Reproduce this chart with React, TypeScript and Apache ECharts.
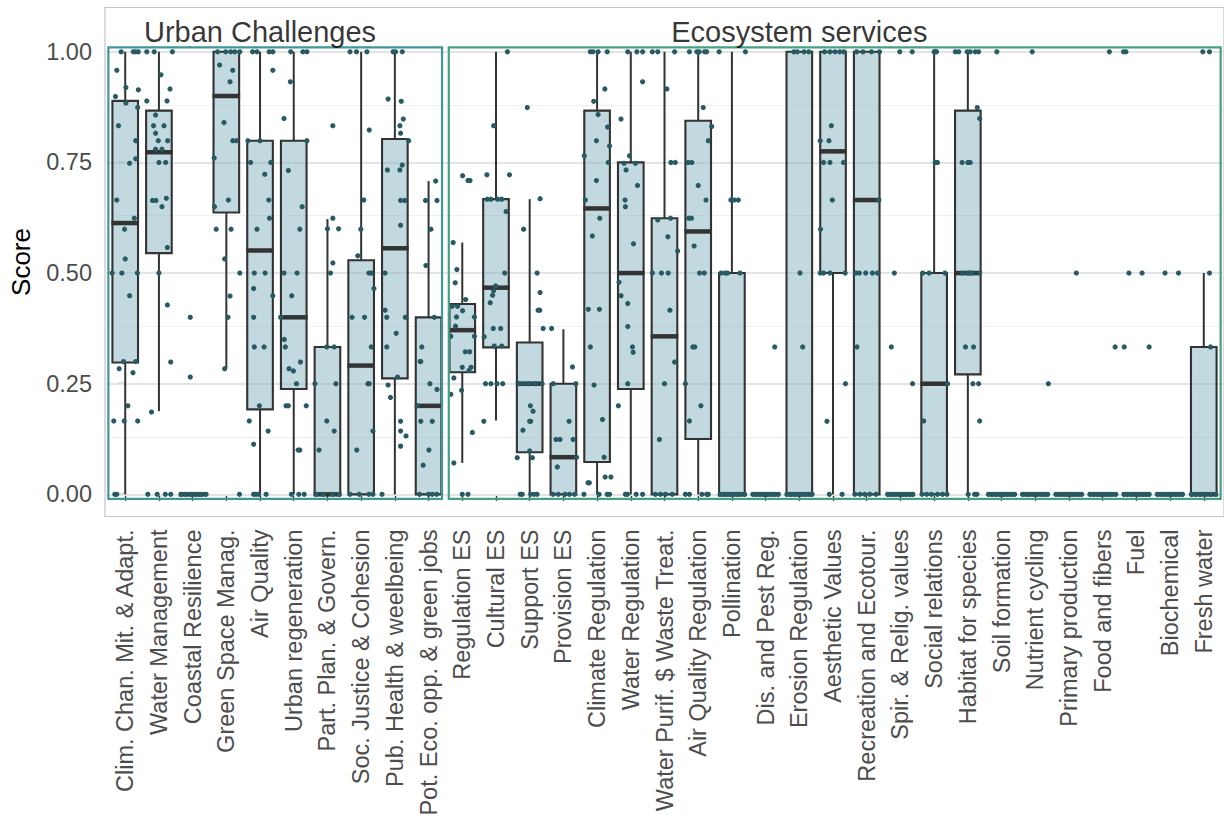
import React, { useEffect, useRef } from "react";
import * as echarts from "echarts";

const categories = [
  "Clim. Chan. Mit. & Adapt.", "Water Management", "Coastal Resilience", "Green Space Manag.",
  "Air Quality", "Urban regeneration", "Part. Plan. & Govern.", "Soc. Justice & Cohesion",
  "Pub. Health & weelbeing", "Pot. Eco. opp. & green jobs", "Regulation ES", "Cultural ES",
  "Support ES", "Provision ES", "Climate Regulation", "Water Regulation",
  "Water Purif. $ Waste Treat.", "Air Quality Regulation", "Pollination", "Dis. and Pest Reg.",
  "Erosion Regulation", "Aesthetic Values", "Recreation and Ecotour.", "Spir. & Relig. values",
  "Social relations", "Habitat for species", "Soil formation", "Nutrient cycling",
  "Primary production", "Food and fibers", "Fuel", "Biochemical", "Fresh water",
];

const whiskerLow = [0, 0.188, 0, 0.284, 0, 0, 0, 0, 0, 0, 0.071, 0.167, 0, 0, 0, 0, 0, 0, 0, 0, 0, 0, 0, 0, 0, 0, 0, 0, 0, 0, 0, 0, 0];
const quartile1 = [0.298, 0.545, 0, 0.637, 0.192, 0.238, 0, 0, 0.262, 0, 0.276, 0.332, 0.095, 0, 0.073, 0.238, 0, 0.125, 0, 0, 0, 0.5, 0, 0, 0, 0.271, 0, 0, 0, 0, 0, 0, 0];
const medians = [0.613, 0.773, 0, 0.9, 0.551, 0.4, 0, 0.291, 0.556, 0.2, 0.371, 0.467, 0.25, 0.084, 0.646, 0.5, 0.357, 0.594, 0, 0, 0, 0.775, 0.665, 0, 0.25, 0.5, 0, 0, 0, 0, 0, 0, 0];
const quartile3 = [0.889, 0.867, 0, 1, 0.799, 0.799, 0.333, 0.529, 0.803, 0.4, 0.43, 0.667, 0.343, 0.25, 0.867, 0.75, 0.624, 0.844, 0.5, 0, 1, 1, 1, 0, 0.5, 0.867, 0, 0, 0, 0, 0, 0, 0.333];
const whiskerHigh = [1, 1, 0, 1, 1, 1, 0.622, 1, 1, 0.708, 0.569, 1, 0.667, 0.373, 1, 1, 1, 1, 1, 0, 1, 1, 1, 0, 1, 1, 0, 0, 0, 0, 0, 0, 0.5];

// jittered observations per category: [horizontal jitter (category units), score]
const jitteredScores: number[][][] = [
  [[-0.12,1],[0.24,1],[0.31,1],[0.39,1],[-0.25,0.958],[0.02,0.919],[0.39,0.914],[-0.29,0.899],[0.02,0.884],[0.37,0.874],[-0.2,0.833],[0.31,0.799],[0.31,0.758],[0.13,0.748],[-0.25,0.665],[0.27,0.624],[-0.02,0.599],[0,0.532],[-0.39,0.5],[-0.1,0.5],[0.36,0.5],[0.13,0.449],[-0.05,0.3],[0.31,0.3],[-0.18,0.284],[0.23,0.275],[0.08,0.2],[-0.34,0.166],[-0.03,0.166],[0.37,0.166],[-0.31,0],[-0.25,0]],
  [[-0.36,1],[-0.14,1],[0.4,1],[0.06,0.948],[0.33,0.916],[-0.36,0.889],[0.24,0.889],[-0.1,0.857],[-0.16,0.833],[0.15,0.833],[-0.1,0.816],[-0.02,0.799],[0.26,0.799],[-0.1,0.78],[0.09,0.78],[0,0.75],[0.2,0.75],[0.22,0.669],[-0.19,0.664],[-0.09,0.664],[0.09,0.65],[0.25,0.558],[0,0.5],[0.25,0.428],[0.35,0.299],[-0.22,0.186],[-0.33,0],[-0.05,0],[0.19,0],[0.35,0]],
  [[-0.07,0.4],[-0.07,0.265],[-0.34,0],[-0.2,0],[-0.05,0],[0.08,0],[0.18,0],[0.25,0],[0.4,0]],
  [[-0.26,1],[-0.02,1],[0.13,1],[0.25,1],[0.4,1],[-0.2,0.97],[0.19,0.958],[0.11,0.932],[-0.07,0.84],[0.19,0.799],[0.3,0.799],[-0.36,0.76],[0.06,0.665],[-0.35,0.65],[-0.3,0.599],[0.14,0.599],[-0.05,0.532],[0.4,0.5],[0.11,0.448],[0.05,0.4],[-0.05,0.284],[0.39,0]],
  [[-0.22,1],[-0.09,1],[0.27,1],[0.38,1],[0.38,0.958],[-0.36,0.799],[0,0.799],[-0.28,0.75],[0.32,0.75],[0.14,0.723],[0.26,0.665],[0.28,0.624],[-0.09,0.599],[-0.17,0.5],[0.15,0.5],[-0.19,0.465],[0.38,0.449],[-0.19,0.4],[-0.17,0.333],[0.12,0.333],[-0.02,0.2],[-0.32,0.166],[0.24,0.143],[-0.19,0.113],[-0.19,0],[-0.12,0],[-0.04,0],[0.18,0]],
  [[-0.09,1],[0.27,1],[0.39,1],[-0.1,0.932],[-0.29,0.849],[0.39,0.799],[-0.16,0.732],[0.25,0.65],[0.18,0.599],[-0.29,0.5],[0.1,0.5],[-0.06,0.449],[-0.39,0.4],[-0.28,0.35],[-0.25,0.333],[0.2,0.299],[-0.14,0.284],[-0.01,0.279],[0.08,0.25],[-0.23,0.2],[-0.16,0.2],[0.37,0.2],[0.13,0.1],[0.18,0.1],[-0.07,0],[0.15,0],[0.31,0]],
  [[0.16,0.833],[0.16,0.624],[0,0.6],[0.33,0.6],[0.16,0.523],[0.09,0.5],[-0.02,0.333],[0.2,0.333],[-0.37,0.25],[0.25,0.25],[-0.02,0.166],[0.2,0.143],[-0.25,0.1],[-0.33,0],[-0.13,0],[0.15,0],[0.35,0]],
  [[-0.33,1],[-0.14,1],[0.17,1],[0.24,0.823],[0.08,0.665],[-0.01,0.599],[-0.1,0.539],[0.23,0.5],[0.3,0.5],[0.38,0.465],[-0.27,0.4],[0.1,0.4],[0.3,0.333],[0.2,0.25],[0.24,0.25],[0.35,0.143],[-0.13,0.1],[-0.33,0],[-0.06,0],[0.23,0],[0.35,0]],
  [[-0.05,1],[0.02,1],[0.22,1],[-0.2,0.893],[0.19,0.888],[0.25,0.848],[0.15,0.833],[0.17,0.816],[0.41,0.799],[0.22,0.744],[-0.22,0.733],[0.15,0.733],[0.17,0.664],[0.29,0.664],[0.17,0.608],[-0.29,0.5],[-0.29,0.416],[-0.24,0.4],[0.31,0.4],[0.04,0.364],[-0.24,0.333],[0.08,0.265],[-0.2,0.247],[-0.13,0.219],[0.17,0.165],[0.17,0.143],[0.33,0.132],[0.17,0.109],[-0.38,0]],
  [[0.21,0.708],[-0.09,0.664],[0.25,0.664],[0.07,0.599],[-0.08,0.517],[0.17,0.4],[-0.2,0.333],[-0.25,0.3],[-0.23,0.3],[0.04,0.25],[0.25,0.237],[-0.33,0.2],[0.11,0.165],[-0.23,0.165],[0.01,0.1],[-0.16,0.066],[-0.27,0],[0,0],[0.11,0],[0.24,0]],
  [[0.01,0.72],[0.17,0.709],[0.23,0.709],[-0.27,0.569],[-0.16,0.508],[-0.21,0.478],[0.1,0.44],[-0.3,0.425],[-0.14,0.425],[0.01,0.415],[-0.17,0.401],[0.36,0.401],[-0.2,0.38],[-0.34,0.357],[0.36,0.357],[0.09,0.322],[0.22,0.322],[0,0.287],[0.26,0.287],[0.2,0.28],[-0.25,0.263],[-0.02,0.235],[-0.34,0.226],[0.3,0.14],[-0.25,0.071],[0,0],[0.17,0]],
  [[0.34,1],[-0.07,0.833],[-0.27,0.722],[0.4,0.722],[-0.26,0.667],[-0.15,0.667],[0.05,0.667],[0.17,0.667],[0.3,0.639],[0.26,0.5],[-0.01,0.471],[-0.07,0.46],[-0.1,0.45],[-0.17,0.433],[-0.08,0.375],[0.14,0.375],[-0.35,0.356],[-0.05,0.335],[0.17,0.335],[-0.31,0.25],[-0.15,0.25],[0.03,0.25],[0.2,0.25],[-0.36,0.165]],
  [[-0.07,0.874],[0.31,0.668],[-0.18,0.599],[0.22,0.5],[0.31,0.456],[0.25,0.416],[0.3,0.416],[0.4,0.375],[-0.31,0.25],[-0.15,0.25],[0,0.25],[0.18,0.25],[0.37,0.25],[0.02,0.2],[0.1,0.188],[0,0.165],[0.03,0.165],[-0.2,0.145],[0,0.098],[-0.37,0.083],[0.08,0.083],[-0.28,0],[-0.22,0],[0.03,0],[0.13,0],[0.22,0]],
  [[-0.35,0.375],[0.27,0.288],[-0.3,0.25],[0.37,0.25],[0.17,0.165],[-0.22,0.124],[-0.1,0.124],[0.29,0.124],[0.39,0.084],[-0.18,0.062],[-0.31,0],[-0.15,0],[0.05,0],[0.18,0],[0.34,0]],
  [[-0.2,1],[-0.12,1],[0.03,1],[0.3,1],[0.23,0.916],[-0.1,0.888],[0.03,0.858],[0.31,0.83],[-0.02,0.799],[0.37,0.787],[-0.38,0.765],[0.33,0.75],[-0.02,0.709],[-0.35,0.665],[0.08,0.624],[-0.14,0.584],[-0.26,0.418],[0.07,0.418],[-0.2,0.333],[-0.09,0.247],[0.16,0.169],[0.21,0.084],[0.24,0.039],[0.41,0.039],[-0.27,0.026],[-0.23,0.026],[-0.39,0],[0.06,0],[0.3,0],[0.37,0]],
  [[-0.09,1],[0.18,1],[0.35,1],[0.35,0.932],[-0.29,0.848],[-0.04,0.765],[-0.2,0.748],[0.14,0.748],[-0.14,0.733],[0.2,0.698],[-0.17,0.665],[-0.16,0.65],[0.08,0.566],[-0.35,0.479],[-0.29,0.449],[-0.09,0.431],[-0.09,0.379],[0.05,0.333],[0.07,0.321],[-0.09,0.25],[-0.37,0.2],[-0.16,0],[-0.1,0],[0.16,0],[0.35,0]],
  [[-0.36,1],[-0.2,1],[0.3,1],[0.07,0.916],[0.19,0.75],[0.32,0.75],[0.18,0.624],[-0.2,0.62],[0.1,0.582],[0.39,0.55],[-0.36,0.5],[-0.09,0.5],[0.11,0.5],[0.16,0.416],[0.3,0.299],[0,0.25],[-0.15,0.124],[-0.27,0],[-0.12,0],[0.03,0],[0.23,0]],
  [[-0.26,1],[-0.04,1],[0.03,1],[0.19,1],[0.25,1],[0.15,0.874],[0.4,0.831],[0.3,0.799],[-0.3,0.75],[-0.19,0.75],[0,0.698],[0.23,0.665],[-0.28,0.624],[-0.2,0.624],[-0.12,0.561],[0.04,0.5],[0.18,0.5],[-0.16,0.333],[-0.1,0.333],[-0.38,0.25],[0.08,0.2],[-0.26,0.166],[-0.38,0],[-0.26,0],[0.11,0],[0.25,0],[0.3,0]],
  [[-0.38,1],[0.4,1],[-0.03,0.665],[0.07,0.665],[0.19,0.665],[-0.32,0.5],[-0.2,0.5],[-0.13,0.5],[0.24,0.5],[-0.35,0],[-0.25,0],[-0.15,0],[-0.05,0],[0.05,0],[0.15,0],[0.25,0],[0.38,0]],
  [[0.27,0.333],[-0.38,0],[-0.28,0],[-0.17,0],[-0.06,0],[0.06,0],[0.17,0],[0.28,0],[0.38,0]],
  [[-0.16,1],[-0.06,1],[0.14,1],[0.28,1],[0.02,0.5],[0.1,0.333],[-0.37,0],[-0.26,0],[-0.15,0],[-0.04,0],[0.07,0],[0.18,0],[0.29,0],[0.38,0]],
  [[-0.25,1],[-0.09,1],[0.06,1],[0.2,1],[0.32,1],[-0.05,0.833],[-0.38,0.799],[-0.12,0.799],[-0.28,0.75],[-0.09,0.75],[0.31,0.75],[-0.02,0.665],[-0.37,0.599],[-0.38,0.5],[-0.28,0.5],[-0.09,0.5],[0.36,0.5],[0.37,0.25],[-0.18,0.165],[-0.11,0],[0.27,0]],
  [[-0.3,1],[-0.11,1],[0.14,1],[0.38,1],[0.36,0.665],[-0.32,0.5],[-0.22,0.5],[-0.03,0.5],[0.17,0.5],[0.32,0.5],[-0.29,0.333],[-0.35,0],[-0.2,0],[-0.06,0],[0.09,0],[0.28,0]],
  [[-0.02,1],[0.35,1],[-0.18,0.5],[-0.27,0.333],[0.36,0.25],[-0.38,0],[-0.27,0],[-0.16,0],[-0.05,0],[0.06,0],[0.17,0],[0.27,0],[0.37,0]],
  [[0,1],[0.03,1],[0.07,1],[0.03,0.75],[0.1,0.75],[-0.34,0.5],[-0.15,0.5],[0.32,0.5],[0.4,0.25],[-0.31,0.166],[-0.36,0],[-0.22,0],[-0.08,0],[0.1,0],[0.25,0],[0.38,0]],
  [[-0.37,1],[-0.27,1],[-0.02,1],[0.07,1],[0.22,1],[0.32,1],[0.28,0.874],[0.35,0.849],[-0.17,0.75],[0,0.75],[0.07,0.75],[-0.17,0.5],[0,0.5],[0.05,0.5],[0.13,0.5],[0.35,0.5],[-0.07,0.333],[0.17,0.333],[0.15,0.25],[0.32,0.25],[0.35,0.166],[0.01,0],[0.2,0],[0.27,0]],
  [[-0.14,1],[-0.39,0],[-0.28,0],[-0.16,0],[-0.05,0],[0.07,0],[0.18,0],[0.29,0],[0.39,0]],
  [[-0.09,1],[0.39,0.25],[-0.38,0],[-0.27,0],[-0.17,0],[-0.04,0],[0.06,0],[0.17,0],[0.28,0],[0.37,0]],
  [[0.22,0.5],[-0.39,0],[-0.28,0],[-0.15,0],[-0.05,0],[0.07,0],[0.17,0],[0.29,0],[0.38,0]],
  [[0.2,1],[0.37,0.333],[-0.38,0],[-0.26,0],[-0.16,0],[-0.06,0],[0.06,0],[0.18,0],[0.27,0],[0.39,0]],
  [[-0.38,1],[-0.31,1],[-0.22,0.5],[0.17,0.5],[-0.36,0.333],[0.38,0.333],[-0.37,0],[-0.27,0],[-0.15,0],[-0.04,0],[0.08,0],[0.19,0],[0.28,0],[0.38,0]],
  [[-0.15,0.5],[0.25,0.5],[-0.38,0],[-0.28,0],[-0.17,0],[-0.06,0],[0.05,0],[0.16,0],[0.27,0],[0.37,0]],
  [[-0.03,1],[0.17,1],[0.17,0.5],[0.2,0.333],[-0.37,0],[-0.24,0],[-0.1,0],[0.05,0],[0.2,0],[0.36,0]],
];

const yTickValues = [0, 0.25, 0.5, 0.75, 1];
const yMinorValues = [0.125, 0.375, 0.625, 0.875];

const groupLabels = ["Urban Challenges", "Ecosystem services"];
const groupLabelX = [4, 20];
const groupLabelY = [1.045, 1.045];
const groupBoxXStart = [-0.5, 9.6];
const groupBoxXEnd = [9.4, 32.5];
const groupBoxYStart = [-0.01, -0.01];
const groupBoxYEnd = [1.01, 1.01];
const groupBoxColors = ["#3F9797", "#47A086"];

const FONT = "'Liberation Sans', Arial, Helvetica, sans-serif";

export default function App() {
  const ref = useRef<HTMLDivElement>(null);

  useEffect(() => {
    document.body.style.margin = "0";
    document.body.style.overflow = "hidden";
    const chart = echarts.init(ref.current!, undefined, { renderer: "svg" });

    const boxData = categories.map((_, i) => [
      i, whiskerLow[i], quartile1[i], medians[i], quartile3[i], whiskerHigh[i],
    ]);
    const pointData: number[][] = [];
    jitteredScores.forEach((pts, i) => {
      pts.forEach(([dx, v]) => pointData.push([i + dx, v]));
    });
    const catIndices = categories.map((_, i) => i);

    const option: any = {
      animation: false,
      textStyle: { fontFamily: FONT },
      grid: {
        left: 105,
        top: 7.5,
        width: 1134,
        height: 509,
        show: true,
        borderColor: "#C4C4C4",
        borderWidth: 1.2,
        backgroundColor: "transparent",
      },
      xAxis: {
        type: "value",
        min: -0.6,
        max: 32.6,
        axisLine: { show: false },
        splitLine: { show: false },
        axisTick: {
          show: true,
          customValues: catIndices,
          length: 6.5,
          lineStyle: { color: "#333333", width: 1.4 },
        },
        axisLabel: {
          show: true,
          customValues: catIndices,
          formatter: (v: number) => categories[Math.round(v)] ?? "",
          rotate: 90,
          fontSize: 23.5,
          color: "#4D4D4D",
          margin: 13,
          fontFamily: FONT,
        },
      },
      yAxis: {
        type: "value",
        min: -0.05,
        max: 1.1,
        name: "Score",
        nameLocation: "middle",
        nameGap: 71,
        nameRotate: 90,
        nameTextStyle: { fontSize: 26, color: "#000000", fontFamily: FONT },
        axisLine: { show: false },
        splitLine: { show: false },
        axisTick: {
          show: true,
          customValues: yTickValues,
          length: 7,
          lineStyle: { color: "#333333", width: 1.4 },
        },
        axisLabel: {
          show: true,
          customValues: yTickValues,
          formatter: (v: number) => v.toFixed(2),
          fontSize: 23.5,
          color: "#4D4D4D",
          margin: 13,
          fontFamily: FONT,
        },
      },
      series: [
        {
          type: "custom",
          name: "boxes",
          z: 2,
          encode: { x: 0, y: [1, 2, 3, 4, 5] },
          data: boxData,
          renderItem: (params: any, api: any) => {
            const i = api.value(0);
            const cx = api.coord([i, api.value(1)])[0];
            const yLow = api.coord([i, api.value(1)])[1];
            const yQ1 = api.coord([i, api.value(2)])[1];
            const yMed = api.coord([i, api.value(3)])[1];
            const yQ3 = api.coord([i, api.value(4)])[1];
            const yHigh = api.coord([i, api.value(5)])[1];
            const w = api.size([0.76, 0])[0];
            const lineStyle = { stroke: "#333333", lineWidth: 2 };
            return {
              type: "group",
              children: [
                { type: "line", shape: { x1: cx, y1: yQ3, x2: cx, y2: yHigh }, style: lineStyle },
                { type: "line", shape: { x1: cx, y1: yQ1, x2: cx, y2: yLow }, style: lineStyle },
                {
                  type: "rect",
                  shape: { x: cx - w / 2, y: yQ3, width: w, height: Math.max(yQ1 - yQ3, 0.01) },
                  style: { fill: "rgba(133,179,193,0.5)", stroke: "#333333", lineWidth: 2.1 },
                },
                {
                  type: "line",
                  shape: { x1: cx - w / 2 - 1, y1: yMed, x2: cx + w / 2 + 1, y2: yMed },
                  style: { stroke: "#333333", lineWidth: 4.5 },
                },
              ],
            };
          },
          markLine: {
            silent: true,
            symbol: ["none", "none"],
            z: 1,
            label: { show: false },
            data: [
              ...yTickValues.map((v) => ({ yAxis: v, lineStyle: { color: "#E4E4E4", width: 1.8, type: "solid" } })),
              ...yMinorValues.map((v) => ({ yAxis: v, lineStyle: { color: "#EFEFEF", width: 1, type: "solid" } })),
            ],
          },
        },
        {
          type: "scatter",
          name: "points",
          z: 3,
          symbol: "circle",
          symbolSize: 5.2,
          itemStyle: { color: "#275A63", opacity: 1 },
          silent: true,
          data: pointData,
        },
        {
          type: "scatter",
          name: "groups",
          z: 5,
          symbolSize: 0,
          silent: true,
          data: groupLabels.map((name, k) => ({ name, value: [groupLabelX[k], groupLabelY[k]] })),
          label: {
            show: true,
            position: "inside",
            formatter: (p: any) => p.name,
            fontSize: 29,
            color: "#000000",
            fontFamily: FONT,
          },
          markArea: {
            silent: true,
            z: 5,
            label: { show: false },
            data: groupLabels.map((_, k) => [
              {
                xAxis: groupBoxXStart[k],
                yAxis: groupBoxYStart[k],
                itemStyle: { color: "rgba(0,0,0,0)", borderColor: groupBoxColors[k], borderWidth: 2.2 },
              },
              { xAxis: groupBoxXEnd[k], yAxis: groupBoxYEnd[k] },
            ]),
          },
        },
      ],
    };

    chart.setOption(option);
    return () => chart.dispose();
  }, []);

  return (
    <div style={{ position: "fixed", left: 0, top: 0, width: 1224, height: 820, overflow: "hidden", background: "#ffffff" }}>
      <div ref={ref} style={{ width: 1224, height: 820, overflow: "hidden" }} />
    </div>
  );
}
